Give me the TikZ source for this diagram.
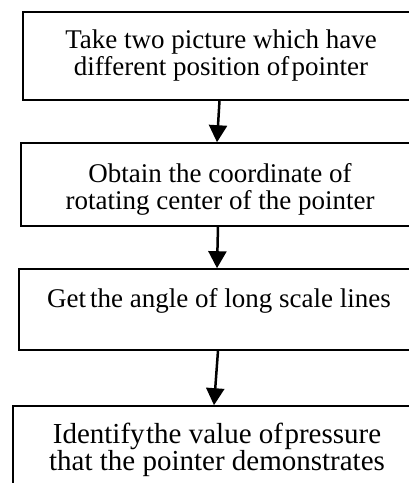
\documentclass[tikz,border=0pt]{standalone}
\usepackage{fontspec}
\setmainfont{Liberation Serif}
\usetikzlibrary{arrows.meta}
\tikzset{
  stepbox/.style={draw=black, line width=1.6pt, rectangle, inner sep=0pt},
  txt/.style={font=\fontsize{27pt}{27pt}\selectfont, align=center, inner sep=0pt},
  bigtxt/.style={font=\fontsize{29pt}{27pt}\selectfont, align=center, inner sep=0pt},
  arr/.style={line width=2.5pt, -{Triangle[length=17pt,width=18pt]}}
}
\begin{document}
\begin{tikzpicture}[x=1pt,y=-1pt]
\useasboundingbox (0,0) rectangle (409,483);
\clip (0,0) rectangle (409,483);
\node[stepbox, minimum width=396pt, minimum height=88pt] (b1) at (221,56) {};
\node[stepbox, minimum width=398pt, minimum height=83pt] (b2) at (220,184.5) {};
\node[stepbox, minimum width=400pt, minimum height=81pt] (b3) at (219,309.5) {};
\node[stepbox, minimum width=408pt, minimum height=100pt] (b4) at (217,456) {};
\node[txt, anchor=base] (t1) at (221,75) {Take two picture which have\\different position of\hspace{0.08em}pointer};
\node[txt, anchor=base] (t2) at (220,209) {Obtain the coordinate of\\rotating center of the pointer};
\node[txt, anchor=base] (t3) at (219,307) {Get\hspace{0.15em}the angle of long scale lines};
\node[bigtxt, anchor=base] (t4) at (217,470) {Identify\hspace{0.05em}the value of\hspace{0.05em}pressure\\that the pointer demonstrates};
\draw[arr] ([xshift=-1.5pt]b1.south) -- ([xshift=-3pt]b2.north);
\draw[arr] ([xshift=-2pt]b2.south) -- ([xshift=-2pt]b3.north);
\draw[arr] ([xshift=-1pt]b3.south) -- ([xshift=-3pt]b4.north);
\end{tikzpicture}
\end{document}
